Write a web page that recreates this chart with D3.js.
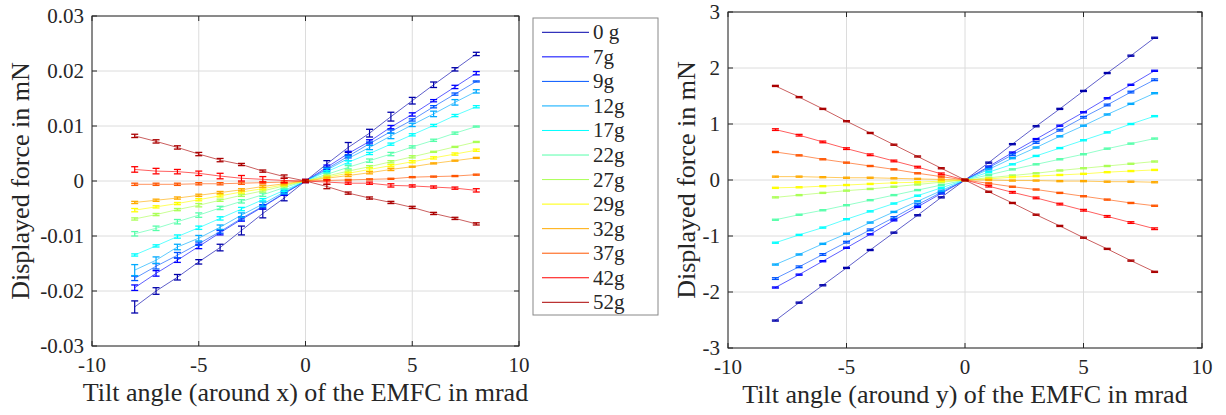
<!DOCTYPE html>
<html><head><meta charset="utf-8">
<style>
body{margin:0;background:#fff}
</style>
<script src="https://cdn.jsdelivr.net/npm/d3@7"></script>
</head><body><svg id="c" xmlns="http://www.w3.org/2000/svg" width="1226" height="415" font-family="Liberation Serif, serif"></svg>
<script>
const angles = [-8,-7,-6,-5,-4,-3,-2,-1,0,1,2,3,4,5,6,7,8];
const seriesNames = ["0 g","7g","9g","12g","17g","22g","27g","29g","32g","37g","42g","52g"];
const seriesColors = ["#0000aa","#0000ff","#0055ff","#00aaff","#00ffff","#55ffaa","#aaff55","#ffff00","#ffaa00","#ff5500","#ff0000","#aa0000"];
const xTicks = [-10,-5,0,5,10];
const xTickLabels = ["-10","-5","0","5","10"];
const leftYTicks = [-0.03,-0.02,-0.01,0,0.01,0.02,0.03];
const leftYTickLabels = ["-0.03","-0.02","-0.01","0","0.01","0.02","0.03"];
const rightYTicks = [-3,-2,-1,0,1,2,3];
const rightYTickLabels = ["-3","-2","-1","0","1","2","3"];

// Left panel: displayed force (mN) vs tilt around x
const left0g  = [-0.0229,-0.0200,-0.0175,-0.0147,-0.0121,-0.0090,-0.0059,-0.0031,0,0.0031,0.0061,0.0087,0.0117,0.0146,0.0175,0.0203,0.0231];
const left7g  = [-0.0194,-0.0168,-0.0144,-0.0119,-0.0094,-0.0070,-0.0047,-0.0023,0,0.0025,0.0050,0.0072,0.0098,0.0121,0.0146,0.0171,0.0196];
const left9g  = [-0.0177,-0.0155,-0.0135,-0.0114,-0.0092,-0.0068,-0.0046,-0.0022,0,0.0022,0.0045,0.0068,0.0090,0.0111,0.0135,0.0158,0.0181];
const left12g = [-0.0162,-0.0144,-0.0120,-0.0104,-0.0084,-0.0062,-0.0042,-0.0020,0,0.0020,0.0041,0.0061,0.0082,0.0102,0.0122,0.0143,0.0163];
const left17g = [-0.01345,-0.0118,-0.0101,-0.0085,-0.0068,-0.0051,-0.0034,-0.0017,0,0.0017,0.0034,0.0050,0.0067,0.0084,0.0101,0.0119,0.0135];
const left22g = [-0.0096,-0.0086,-0.0074,-0.0062,-0.0049,-0.0037,-0.0025,-0.0012,0,0.0012,0.0025,0.0037,0.0049,0.0062,0.0074,0.0087,0.0099];
const left27g = [-0.0069,-0.0061,-0.0052,-0.0044,-0.0035,-0.0026,-0.0018,-0.0009,0,0.0009,0.0018,0.0026,0.0035,0.0044,0.0053,0.0062,0.0071];
const left29g = [-0.0053,-0.0047,-0.0041,-0.0034,-0.0027,-0.0020,-0.0014,-0.0007,0,0.0007,0.0014,0.0021,0.0028,0.0035,0.0042,0.0049,0.0056];
const left32g = [-0.0039,-0.0035,-0.0031,-0.0026,-0.0021,-0.0016,-0.0010,-0.0005,0,0.0005,0.0010,0.0015,0.0021,0.0026,0.0032,0.0037,0.0042];
const left37g = [-0.0006,-0.0006,-0.0006,-0.0005,-0.0005,-0.0004,-0.0003,-0.0002,0,0.0001,0.0002,0.0003,0.0004,0.0007,0.0008,0.0009,0.00115];
const left42g = [0.0021,0.0018,0.0017,0.0014,0.0009,0.0005,0.0003,0.0001,0,-0.0002,-0.0004,-0.0004,-0.0008,-0.0009,-0.0011,-0.0013,-0.0017];
const left52g = [0.0082,0.0072,0.0061,0.0049,0.0038,0.0030,0.0018,0.0008,0,-0.0010,-0.0022,-0.0031,-0.0039,-0.0048,-0.0059,-0.0068,-0.0078];

const leftErr0g  = [0.0011,0.0006,0.0005,0.0004,0.0006,0.0008,0.0008,0.0005,0.0003,0.0006,0.0009,0.0007,0.0008,0.0006,0.0005,0.0003,0.0003];
const leftErr7g  = [0.0005,0.0005,0.0004,0.0004,0.0004,0.0003,0.0004,0.0003,0.0002,0.0004,0.0004,0.0003,0.0003,0.0003,0.0002,0.0003,0.0003];
const leftErr9g  = [0.0004,0.0005,0.0005,0.0003,0.0003,0.0003,0.0002,0.0002,0.0002,0.0003,0.0003,0.0003,0.0003,0.0002,0.0002,0.0002,0.0001];
const leftErr12g = [0.0010,0.0006,0.0005,0.0005,0.0004,0.0004,0.0004,0.0003,0.0002,0.0003,0.0004,0.0004,0.0005,0.0003,0.0005,0.0005,0.0003];
const leftErr17g = [0.0002,0.0002,0.0003,0.0003,0.0003,0.0003,0.0002,0.0002,0.0002,0.0002,0.0003,0.0002,0.0002,0.0002,0.0002,0.0002,0.0002];
const leftErr22g = [0.0004,0.0004,0.0004,0.0004,0.0003,0.0003,0.0003,0.0002,0.0002,0.0002,0.0003,0.0003,0.0003,0.0002,0.0002,0.0002,0.0001];
const leftErr27g = [0.0002,0.0002,0.0002,0.0003,0.0002,0.0002,0.0002,0.0002,0.0002,0.0002,0.0002,0.0002,0.0002,0.0002,0.0001,0.0001,0.0001];
const leftErr29g = [0.0003,0.0002,0.0002,0.0002,0.0002,0.0002,0.0002,0.0002,0.0002,0.0002,0.0002,0.0003,0.0002,0.0002,0.0002,0.0002,0.0002];
const leftErr32g = [0.0002,0.0002,0.0002,0.0002,0.0002,0.0002,0.0002,0.0002,0.0002,0.0002,0.0002,0.0002,0.0002,0.0001,0.0001,0.0001,0.0001];
const leftErr37g = [0.0002,0.0002,0.0002,0.0002,0.0002,0.0002,0.0002,0.0002,0.0002,0.0001,0.0001,0.0001,0.0001,0.0001,0.0001,0.0001,0.0001];
const leftErr42g = [0.0005,0.0005,0.0004,0.0004,0.0005,0.0005,0.0005,0.0004,0.0003,0.0004,0.0002,0.0002,0.0003,0.0002,0.0002,0.0002,0.0003];
const leftErr52g = [0.0003,0.0003,0.0003,0.0003,0.0003,0.0002,0.0002,0.0003,0.0002,0.0004,0.0002,0.0002,0.0002,0.0002,0.0002,0.0002,0.0002];

// Right panel: displayed force (mN) vs tilt around y
const right0g  = [-2.51,-2.19,-1.88,-1.57,-1.25,-0.94,-0.63,-0.31,0,0.31,0.64,0.96,1.27,1.59,1.91,2.22,2.54];
const right7g  = [-1.92,-1.69,-1.45,-1.21,-0.97,-0.72,-0.48,-0.24,0,0.24,0.49,0.73,0.97,1.21,1.46,1.70,1.95];
const right9g  = [-1.76,-1.55,-1.33,-1.11,-0.89,-0.67,-0.44,-0.22,0,0.22,0.45,0.67,0.89,1.12,1.34,1.57,1.79];
const right12g = [-1.51,-1.33,-1.14,-0.96,-0.76,-0.57,-0.38,-0.19,0,0.19,0.39,0.58,0.78,0.97,1.17,1.36,1.55];
const right17g = [-1.12,-0.98,-0.85,-0.70,-0.56,-0.42,-0.28,-0.14,0,0.14,0.28,0.43,0.57,0.71,0.85,1.00,1.14];
const right22g = [-0.71,-0.62,-0.54,-0.45,-0.36,-0.27,-0.18,-0.09,0,0.09,0.19,0.28,0.37,0.46,0.56,0.65,0.74];
const right27g = [-0.31,-0.27,-0.23,-0.19,-0.16,-0.12,-0.08,-0.04,0,0.04,0.08,0.12,0.17,0.21,0.25,0.29,0.33];
const right29g = [-0.14,-0.13,-0.11,-0.09,-0.07,-0.05,-0.04,-0.02,0,0.02,0.05,0.07,0.09,0.11,0.14,0.16,0.18];
const right32g = [0.06,0.06,0.05,0.04,0.04,0.03,0.02,0.01,0,0,-0.01,-0.01,-0.02,-0.02,-0.03,-0.03,-0.04];
const right37g = [0.50,0.44,0.37,0.31,0.25,0.19,0.12,0.06,0,-0.06,-0.12,-0.17,-0.23,-0.29,-0.35,-0.41,-0.46];
const right42g = [0.90,0.80,0.68,0.56,0.45,0.34,0.23,0.11,0,-0.11,-0.22,-0.32,-0.43,-0.54,-0.65,-0.76,-0.87];
const right52g = [1.68,1.48,1.27,1.05,0.84,0.63,0.42,0.21,0,-0.21,-0.41,-0.62,-0.82,-1.03,-1.23,-1.44,-1.64];
const rightErrBySeries = [0.01,0.01,0.015,0.01,0.01,0.01,0.01,0.01,0.01,0.01,0.015,0.01];

const leftValues = [left0g,left7g,left9g,left12g,left17g,left22g,left27g,left29g,left32g,left37g,left42g,left52g];
const leftErrors = [leftErr0g,leftErr7g,leftErr9g,leftErr12g,leftErr17g,leftErr22g,leftErr27g,leftErr29g,leftErr32g,leftErr37g,leftErr42g,leftErr52g];
const rightValues = [right0g,right7g,right9g,right12g,right17g,right22g,right27g,right29g,right32g,right37g,right42g,right52g];
const rightErrors = rightValues.map((s,i)=>s.map(()=>rightErrBySeries[i]));

const svg = d3.select("#c");
const axisColor = "#262626";

function txt(sel){ return sel.attr("font-family","serif").attr("fill",axisColor); }

function panel(cfg){
  const x = d3.scaleLinear().domain([-10,10]).range([cfg.x0,cfg.x1]);
  const y = d3.scaleLinear().domain(cfg.yDomain).range([cfg.y1,cfg.y0]);
  const g = svg.append("g");
  g.selectAll(".gx").data(xTicks).enter().append("line")
    .attr("x1",d=>x(d)).attr("x2",d=>x(d)).attr("y1",cfg.y0).attr("y2",cfg.y1)
    .attr("stroke","#dcdcdc").attr("stroke-width",1);
  g.selectAll(".gy").data(cfg.yTicks).enter().append("line")
    .attr("x1",cfg.x0).attr("x2",cfg.x1).attr("y1",d=>y(d)).attr("y2",d=>y(d))
    .attr("stroke","#dcdcdc").attr("stroke-width",1);
  const line = d3.line().x((d,i)=>x(angles[i])).y(d=>y(d));
  cfg.values.forEach((vals,si)=>{
    const c = seriesColors[si];
    const sg = g.append("g");
    sg.append("path").datum(vals).attr("d",line).attr("fill","none")
      .attr("stroke",c).attr("stroke-width",0.9).attr("stroke-opacity",0.7);
    const errs = cfg.errors[si];
    vals.forEach((v,i)=>{
      const px = x(angles[i]), e = errs[i];
      const yt = y(v+e), yb = y(v-e);
      sg.append("line").attr("x1",px).attr("x2",px).attr("y1",yt).attr("y2",yb).attr("stroke",c).attr("stroke-width",1.2);
      sg.append("line").attr("x1",px-3.5).attr("x2",px+3.5).attr("y1",yt).attr("y2",yt).attr("stroke",c).attr("stroke-width",1.3);
      sg.append("line").attr("x1",px-3.5).attr("x2",px+3.5).attr("y1",yb).attr("y2",yb).attr("stroke",c).attr("stroke-width",1.3);
    });
  });
  g.append("rect").attr("x",cfg.x0).attr("y",cfg.y0).attr("width",cfg.x1-cfg.x0).attr("height",cfg.y1-cfg.y0)
    .attr("fill","none").attr("stroke",axisColor).attr("stroke-width",1);
  const tl = 5;
  xTicks.forEach(t=>{
    g.append("line").attr("x1",x(t)).attr("x2",x(t)).attr("y1",cfg.y1).attr("y2",cfg.y1-tl).attr("stroke",axisColor);
    g.append("line").attr("x1",x(t)).attr("x2",x(t)).attr("y1",cfg.y0).attr("y2",cfg.y0+tl).attr("stroke",axisColor);
  });
  cfg.yTicks.forEach(t=>{
    g.append("line").attr("x1",cfg.x0).attr("x2",cfg.x0+tl).attr("y1",y(t)).attr("y2",y(t)).attr("stroke",axisColor);
    g.append("line").attr("x1",cfg.x1).attr("x2",cfg.x1-tl).attr("y1",y(t)).attr("y2",y(t)).attr("stroke",axisColor);
  });
  txt(g.selectAll(".xl").data(xTicks).enter().append("text")
    .attr("x",d=>x(d)).attr("y",cfg.y1+26).attr("text-anchor","middle").attr("font-size",21)
    .text((d,i)=>xTickLabels[i]));
  txt(g.selectAll(".yl").data(cfg.yTicks).enter().append("text")
    .attr("x",cfg.x0-8).attr("y",d=>y(d)+7).attr("text-anchor","end").attr("font-size",21)
    .text((d,i)=>cfg.yTickLabels[i]));
  txt(g.append("text").attr("x",(cfg.x0+cfg.x1)/2).attr("y",cfg.y1+55).attr("text-anchor","middle").attr("font-size",26)
    .text(cfg.xTitle));
  txt(g.append("text").attr("transform",`translate(${cfg.yTitleX},${(cfg.y0+cfg.y1)/2}) rotate(-90)`)
    .attr("text-anchor","middle").attr("font-size",26).text("Displayed force in mN"));
}

panel({x0:92,x1:519,y0:16,y1:346,yDomain:[-0.03,0.03],yTicks:leftYTicks,yTickLabels:leftYTickLabels,
  values:leftValues,errors:leftErrors,xTitle:"Tilt angle (around x) of the EMFC in mrad",yTitleX:29});
panel({x0:728,x1:1202,y0:12,y1:348,yDomain:[-3,3],yTicks:rightYTicks,yTickLabels:rightYTickLabels,
  values:rightValues,errors:rightErrors,xTitle:"Tilt angle (around y) of the EMFC in mrad",yTitleX:695});

const lg = svg.append("g");
lg.append("rect").attr("x",533).attr("y",18).attr("width",125).attr("height",297)
  .attr("fill","#fff").attr("stroke","#888").attr("stroke-width",1);
const ly = d3.scaleLinear().domain([0,11]).range([32.3,302.3]);
seriesNames.forEach((n,i)=>{
  lg.append("line").attr("x1",542).attr("x2",589).attr("y1",ly(i)).attr("y2",ly(i))
    .attr("stroke",seriesColors[i]).attr("stroke-width",1);
  txt(lg.append("text").attr("x",593).attr("y",ly(i)+7).attr("font-size",21).text(n));
});
</script></body></html>
